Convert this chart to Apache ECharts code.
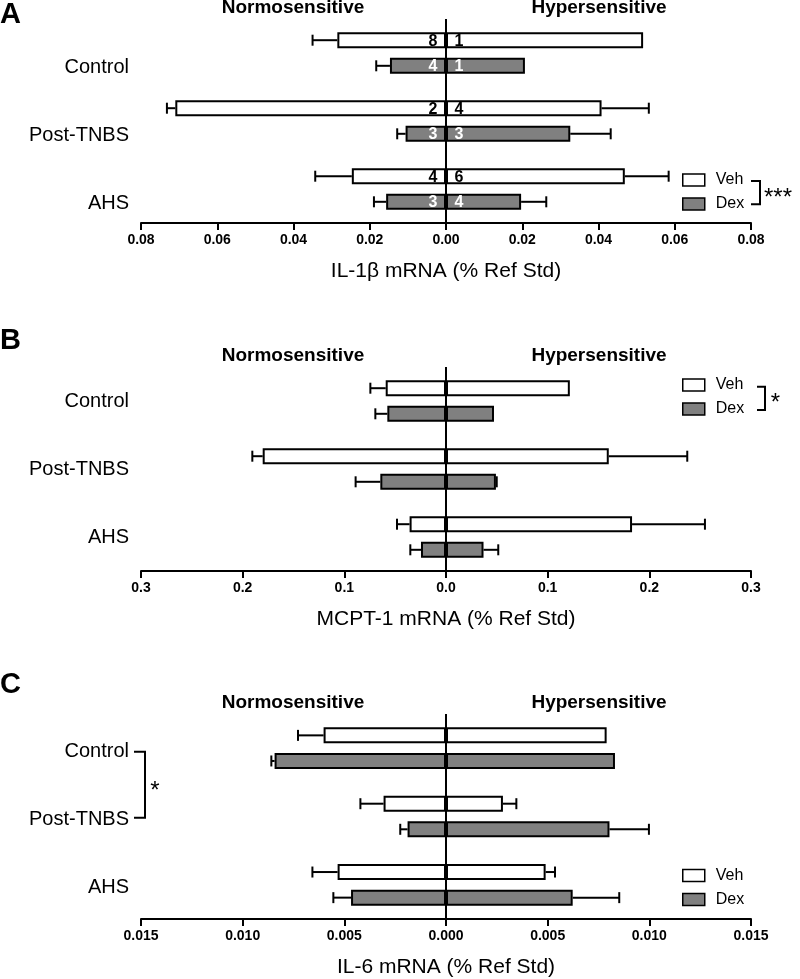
<!DOCTYPE html>
<html>
<head>
<meta charset="utf-8">
<script src="https://cdn.jsdelivr.net/npm/echarts@6/dist/echarts.min.js"></script>
<style>
html,body{margin:0;padding:0;background:#fff;}
#chart{width:800px;height:979px;}
</style>
</head>
<body>
<div id="chart"></div>
<script>
// ---------- DATA ----------
const categories = ['Control', 'Post-TNBS', 'AHS'];
const legendNames = ['Veh', 'Dex'];
const sideTitles = ['Normosensitive', 'Hypersensitive'];

// Panel A : IL-1β mRNA (% Ref Std)
const aVehNormo    = [0.0285, 0.0710, 0.0247];
const aVehNormoErr = [0.0065, 0.0022, 0.0096];
const aVehHyper    = [0.0517, 0.0408, 0.0469];
const aVehHyperErr = [0, 0.0124, 0.0115];
const aDexNormo    = [0.0147, 0.0106, 0.0157];
const aDexNormoErr = [0.0036, 0.0022, 0.0032];
const aDexHyper    = [0.0207, 0.0326, 0.0197];
const aDexHyperErr = [0, 0.0106, 0.0066];
const aVehNormoN = [8, 2, 4];
const aVehHyperN = [1, 4, 6];
const aDexNormoN = [4, 3, 3];
const aDexHyperN = [1, 3, 4];

// Panel B : MCPT-1 mRNA (% Ref Std)
const bVehNormo    = [0.0593, 0.1803, 0.0358];
const bVehNormoErr = [0.0151, 0.0102, 0.0124];
const bVehHyper    = [0.1218, 0.1601, 0.1830];
const bVehHyperErr = [0, 0.0772, 0.0717];
const bDexNormo    = [0.0577, 0.0646, 0.0246];
const bDexNormoErr = [0.0118, 0.0243, 0.0105];
const bDexHyper    = [0.0472, 0.0491, 0.0369];
const bDexHyperErr = [0, 0.0008, 0.0145];

// Panel C : IL-6 mRNA (% Ref Std)
const cVehNormo    = [0.00602, 0.00307, 0.00533];
const cVehNormoErr = [0.00126, 0.00114, 0.00124];
const cVehHyper    = [0.00790, 0.00280, 0.00490];
const cVehHyperErr = [0, 0.00066, 0.00046];
const cDexNormo    = [0.00843, 0.00189, 0.00467];
const cDexNormoErr = [0.00016, 0.00036, 0.00087];
const cDexHyper    = [0.00831, 0.00804, 0.00623];
const cDexHyperErr = [0, 0.00194, 0.00229];

// Axes
const axisTitles = ['IL-1β mRNA (% Ref Std)', 'MCPT-1 mRNA (% Ref Std)', 'IL-6 mRNA (% Ref Std)'];
const axisMax = [0.08, 0.3, 0.015];
const axisInterval = [0.02, 0.1, 0.005];
const axisDecimals = [2, 1, 3];
const panelLetters = ['A', 'B', 'C'];

// ---------- STYLE / LAYOUT ----------
const FONT = '"Liberation Sans", Arial, Helvetica, sans-serif';
const BAR_W = 16;
const BAR_GAP = 0.6;
const BAR_OFF = (BAR_W + BAR_W * BAR_GAP) / 2;
const VEH_COLOR = '#ffffff';
const DEX_COLOR = '#808080';
const grids = [
  {left: 141, width: 610, top: 19, height: 204},
  {left: 141, width: 610, top: 367, height: 204},
  {left: 141, width: 610, top: 714, height: 205}
];
// category label vertical placement per panel
const labelVAlign = ['top', 'middle', 'top'];
const labelLineH = [29, 20, 6];

const panels = [
  {vn: aVehNormo, vne: aVehNormoErr, vh: aVehHyper, vhe: aVehHyperErr,
   dn: aDexNormo, dne: aDexNormoErr, dh: aDexHyper, dhe: aDexHyperErr},
  {vn: bVehNormo, vne: bVehNormoErr, vh: bVehHyper, vhe: bVehHyperErr,
   dn: bDexNormo, dne: bDexNormoErr, dh: bDexHyper, dhe: bDexHyperErr},
  {vn: cVehNormo, vne: cVehNormoErr, vh: cVehHyper, vhe: cVehHyperErr,
   dn: cDexNormo, dne: cDexNormoErr, dh: cDexHyper, dhe: cDexHyperErr}
];

function errRender(sign) {
  return function (params, api) {
    const v = api.value(0), e = api.value(1), c = api.value(2);
    if (v === e) return null;
    const p1 = api.coord([v, c]);
    const p2 = api.coord([e, c]);
    const y = p1[1] + sign * BAR_OFF;
    const st = {stroke: '#000', lineWidth: 2};
    return {
      type: 'group',
      children: [
        {type: 'line', shape: {x1: p1[0], y1: y, x2: p2[0], y2: y}, style: st},
        {type: 'line', shape: {x1: p2[0], y1: y - 5.5, x2: p2[0], y2: y + 5.5}, style: st}
      ]
    };
  };
}

function nRender(sign, color) {
  return function (params, api) {
    const c = api.value(1);
    const p = api.coord([0, c]);
    const y = p[1] + sign * BAR_OFF;
    const font = 'bold 16px ' + FONT;
    return {
      type: 'group',
      children: [
        {type: 'text', style: {text: String(api.value(2)), x: p[0] - 8.5, y: y + 1, fill: color, font: font, align: 'right', verticalAlign: 'middle'}},
        {type: 'text', style: {text: String(api.value(3)), x: p[0] + 8.5, y: y + 1, fill: color, font: font, align: 'left', verticalAlign: 'middle'}}
      ]
    };
  };
}

const xAxes = [], yAxes = [], series = [], legends = [];
panels.forEach((P, i) => {
  const dec = axisDecimals[i];
  xAxes.push({
    type: 'value', gridIndex: i, min: -axisMax[i], max: axisMax[i], interval: axisInterval[i],
    splitLine: {show: false},
    axisLine: {show: true, onZero: false, lineStyle: {color: '#000', width: 2}},
    axisTick: {show: true, length: 7, lineStyle: {color: '#000', width: 2}},
    axisLabel: {color: '#000', fontSize: 14, fontWeight: 'bold', fontFamily: FONT, margin: 10,
      formatter: v => Math.abs(v).toFixed(dec)},
    name: axisTitles[i], nameLocation: 'middle', nameGap: 38,
    nameTextStyle: {color: '#000', fontSize: 21, fontFamily: FONT}
  });
  yAxes.push({
    type: 'category', gridIndex: i, data: categories, inverse: true,
    axisLine: {show: false}, axisTick: {show: false},
    axisLabel: {color: '#000', fontSize: 20, fontFamily: FONT, margin: 12,
      verticalAlign: labelVAlign[i], lineHeight: labelLineH[i]}
  });
  const base = {type: 'bar', xAxisIndex: i, yAxisIndex: i, barWidth: BAR_W, barGap: (BAR_GAP * 100) + '%'};
  const vehStyle = {color: VEH_COLOR, borderColor: '#000', borderWidth: 2};
  const dexStyle = {color: DEX_COLOR, borderColor: '#000', borderWidth: 2};
  series.push(Object.assign({}, base, {name: 'Veh', stack: 'veh' + i, itemStyle: vehStyle, data: P.vn.map(v => -v),
    markLine: {silent: true, symbol: ['none', 'none'], label: {show: false},
      lineStyle: {color: '#000', width: 2, type: 'solid'}, data: [{xAxis: 0}], animation: false}}));
  series.push(Object.assign({}, base, {name: 'Veh', stack: 'veh' + i, itemStyle: vehStyle, data: P.vh.slice()}));
  series.push(Object.assign({}, base, {name: 'Dex', stack: 'dex' + i, itemStyle: dexStyle, data: P.dn.map(v => -v)}));
  series.push(Object.assign({}, base, {name: 'Dex', stack: 'dex' + i, itemStyle: dexStyle, data: P.dh.slice()}));

  const vehErr = [], dexErr = [];
  categories.forEach((c, k) => {
    vehErr.push([-P.vn[k], -(P.vn[k] + P.vne[k]), k]);
    vehErr.push([P.vh[k], P.vh[k] + P.vhe[k], k]);
    dexErr.push([-P.dn[k], -(P.dn[k] + P.dne[k]), k]);
    dexErr.push([P.dh[k], P.dh[k] + P.dhe[k], k]);
  });
  series.push({type: 'custom', name: 'vehErr' + i, xAxisIndex: i, yAxisIndex: i, renderItem: errRender(-1),
    encode: {x: [0, 1], y: 2}, data: vehErr, z: 3, silent: true});
  series.push({type: 'custom', name: 'dexErr' + i, xAxisIndex: i, yAxisIndex: i, renderItem: errRender(1),
    encode: {x: [0, 1], y: 2}, data: dexErr, z: 3, silent: true});
});

// n labels (panel A)
series.push({type: 'custom', name: 'nVeh', xAxisIndex: 0, yAxisIndex: 0, renderItem: nRender(-1, '#000'),
  encode: {x: 0, y: 1}, z: 5, silent: true,
  data: categories.map((c, k) => [0, k, aVehNormoN[k], aVehHyperN[k]])});
series.push({type: 'custom', name: 'nDex', xAxisIndex: 0, yAxisIndex: 0, renderItem: nRender(1, '#fff'),
  encode: {x: 0, y: 1}, z: 5, silent: true,
  data: categories.map((c, k) => [0, k, aDexNormoN[k], aDexHyperN[k]])});

const legendTops = [172, 377, 867.5];
legendTops.forEach(t => legends.push({
  data: legendNames, orient: 'vertical', left: 682, top: t, padding: 0,
  itemWidth: 22, itemHeight: 12, itemGap: 8, icon: 'rect', selectedMode: false,
  itemStyle: {borderColor: '#000', borderWidth: 1.5},
  textStyle: {color: '#000', fontSize: 16, fontFamily: FONT, lineHeight: 16, padding: [0, 0, 0, 6]}
}));

// annotations
const letterY = [16.5, 342.5, 686];
const titleY = [8, 355.5, 703];
const graphics = [];
panelLetters.forEach((L, i) => {
  graphics.push({type: 'text', left: 0, top: letterY[i] - 16, style: {text: L, font: 'bold 29px ' + FONT, fill: '#000'}});
  graphics.push({type: 'text', x: 293, y: titleY[i], style: {text: sideTitles[0], font: 'bold 19px ' + FONT, fill: '#000', align: 'center', verticalAlign: 'middle'}});
  graphics.push({type: 'text', x: 599, y: titleY[i], style: {text: sideTitles[1], font: 'bold 19px ' + FONT, fill: '#000', align: 'center', verticalAlign: 'middle'}});
});
const brk = {stroke: '#000', lineWidth: 2, fill: null};
graphics.push({type: 'polyline', shape: {points: [[751, 181], [760, 181], [760, 204.3], [751, 204.3]]}, style: brk});
graphics.push({type: 'text', x: 764, y: 198, style: {text: '***', font: '24px ' + FONT, fill: '#000', align: 'left', verticalAlign: 'middle'}});
graphics.push({type: 'polyline', shape: {points: [[757, 386.7], [765, 386.7], [765, 410], [757, 410]]}, style: brk});
graphics.push({type: 'text', x: 775.5, y: 403, style: {text: '*', font: '24px ' + FONT, fill: '#000', align: 'center', verticalAlign: 'middle'}});
graphics.push({type: 'polyline', shape: {points: [[134, 751.7], [145, 751.7], [145, 817.7], [134, 817.7]]}, style: brk});
graphics.push({type: 'text', x: 155, y: 791.5, style: {text: '*', font: '24px ' + FONT, fill: '#000', align: 'center', verticalAlign: 'middle'}});

const chart = echarts.init(document.getElementById('chart'), null, {renderer: 'canvas'});
chart.setOption({
  backgroundColor: '#fff',
  animation: false,
  textStyle: {fontFamily: FONT},
  grid: grids,
  xAxis: xAxes,
  yAxis: yAxes,
  legend: legends,
  series: series,
  graphic: graphics
});
</script>
</body>
</html>
